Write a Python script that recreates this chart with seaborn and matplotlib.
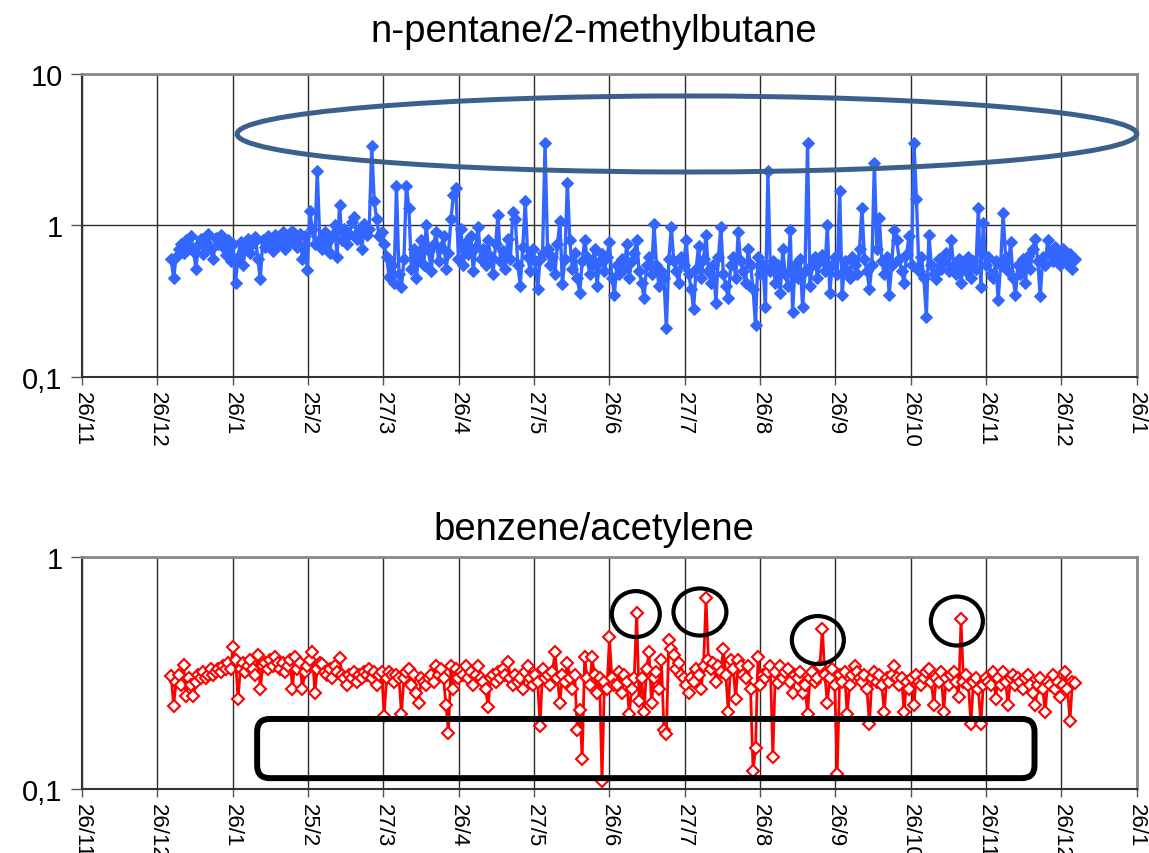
import numpy as np
import pandas as pd
import matplotlib
matplotlib.use("Agg")
import matplotlib.pyplot as plt
import matplotlib.dates as mdates
import seaborn as sns
from matplotlib.patches import Ellipse, FancyBboxPatch
from matplotlib.ticker import NullLocator

# ── data (daily ratios) ──────────────────────────────────────────────────────
first_day = "2009-01-01"

pentane_ratio = [
    0.60, 0.45, 0.62, 0.70, 0.75, 0.66, 0.80, 0.72, 0.85, 0.68,
    0.52, 0.74, 0.82, 0.65, 0.78, 0.88, 0.70, 0.60, 0.83, 0.76,
    0.86, 0.72, 0.64, 0.80, 0.58, 0.75, 0.42, 0.62, 0.78, 0.55,
    0.70, 0.82, 0.66, 0.77, 0.84, 0.60, 0.44, 0.80, 0.72, 0.85,
    0.78, 0.68, 0.86, 0.74, 0.80, 0.90, 0.70, 0.76, 0.84, 0.92,
    0.80, 0.72, 0.88, 0.60, 0.85, 0.51, 1.24, 0.95, 0.75, 2.30,
    0.82, 0.70, 0.90, 0.78, 0.66, 0.85, 1.00, 0.62, 1.36, 0.80,
    0.95, 0.75, 0.88, 1.05, 1.13, 0.82, 0.92, 0.70, 1.02, 0.86,
    0.95, 3.37, 1.45, 1.10, 0.85, 0.90, 0.75, 0.62, 0.46, 0.55,
    0.42, 1.82, 0.48, 0.39, 0.60, 1.82, 1.31, 0.52, 0.70, 0.45,
    0.62, 0.80, 0.55, 1.00, 0.68, 0.50, 0.75, 0.90, 0.58, 0.72,
    0.85, 0.52, 0.66, 1.10, 1.60, 1.78, 0.60, 0.95, 0.55, 0.78,
    0.65, 0.85, 0.50, 0.72, 0.98, 0.60, 0.70, 0.55, 0.80, 0.62,
    0.48, 0.75, 1.18, 0.58, 0.68, 0.52, 0.82, 0.60, 1.22, 1.10,
    0.55, 0.40, 0.72, 1.46, 0.62, 0.50, 0.70, 0.58, 0.38, 0.60,
    0.66, 3.50, 0.70, 0.55, 0.62, 0.48, 0.75, 1.07, 0.41, 0.60,
    1.92, 0.80, 0.52, 0.66, 0.45, 0.36, 0.58, 0.80, 0.62, 0.48,
    0.55, 0.70, 0.40, 0.58, 0.65, 0.50, 0.62, 0.78, 0.45, 0.35,
    0.55, 0.48, 0.60, 0.52, 0.75, 0.45, 0.58, 0.66, 0.80, 0.50,
    0.42, 0.33, 0.55, 0.62, 0.48, 1.02, 0.55, 0.40, 0.50, 0.45,
    0.21, 0.60, 0.97, 0.58, 0.50, 0.42, 0.62, 0.55, 0.80, 0.48,
    0.38, 0.28, 0.52, 0.73, 0.45, 0.60, 0.87, 0.50, 0.42, 0.55,
    0.31, 0.62, 0.98, 0.48, 0.40, 0.33, 0.55, 0.62, 0.45, 0.90,
    0.58, 0.50, 0.42, 0.70, 0.55, 0.38, 0.22, 0.62, 0.48, 0.55,
    0.29, 2.28, 0.50, 0.58, 0.42, 0.55, 0.36, 0.70, 0.48, 0.40,
    0.94, 0.27, 0.55, 0.45, 0.60, 0.29, 0.50, 3.48, 0.40, 0.55,
    0.62, 0.45, 0.58, 0.64, 0.50, 1.00, 0.36, 0.55, 0.62, 0.48,
    1.69, 0.35, 0.58, 0.50, 0.45, 0.62, 0.55, 0.48, 0.70, 1.30,
    0.60, 0.50, 0.38, 0.55, 2.60, 0.70, 1.12, 0.58, 0.48, 0.62,
    0.35, 0.55, 0.94, 0.80, 0.60, 0.50, 0.42, 0.65, 0.85, 0.55,
    3.50, 1.50, 0.50, 0.62, 0.45, 0.25, 0.87, 0.55, 0.48, 0.44,
    0.60, 0.52, 0.58, 0.66, 0.50, 0.80, 0.55, 0.48, 0.60, 0.42,
    0.55, 0.50, 0.62, 0.45, 0.58, 0.52, 1.31, 0.39, 1.04, 0.55,
    0.62, 0.48, 0.45, 0.58, 0.32, 0.55, 1.20, 0.62, 0.50, 0.78,
    0.45, 0.35, 0.55, 0.48, 0.60, 0.42, 0.63, 0.52, 0.70, 0.82,
    0.58, 0.34, 0.62, 0.55, 0.80, 0.65, 0.58, 0.72, 0.62, 0.55,
    0.70, 0.60, 0.56, 0.65, 0.52, 0.60,
]

benzene_ratio = [
    0.307, 0.229, 0.29, 0.31, 0.28, 0.342, 0.252, 0.30, 0.28, 0.252,
    0.29, 0.31, 0.30, 0.32, 0.30, 0.31, 0.33, 0.31, 0.32, 0.33,
    0.32, 0.34, 0.33, 0.35, 0.33, 0.41, 0.36, 0.244, 0.33, 0.35,
    0.32, 0.34, 0.36, 0.33, 0.31, 0.378, 0.27, 0.34, 0.35, 0.33,
    0.36, 0.34, 0.37, 0.35, 0.33, 0.35, 0.32, 0.34, 0.36, 0.27,
    0.37, 0.33, 0.35, 0.27, 0.32, 0.34, 0.36, 0.39, 0.26, 0.33,
    0.35, 0.345, 0.32, 0.31, 0.33, 0.30, 0.34, 0.32, 0.366, 0.31,
    0.30, 0.28, 0.31, 0.30, 0.32, 0.29, 0.31, 0.30, 0.32, 0.31,
    0.33, 0.30, 0.32, 0.28, 0.31, 0.32, 0.207, 0.30, 0.32, 0.31,
    0.29, 0.31, 0.30, 0.21, 0.30, 0.32, 0.33, 0.28, 0.31, 0.26,
    0.236, 0.30, 0.29, 0.28, 0.30, 0.31, 0.29, 0.34, 0.31, 0.33,
    0.30, 0.23, 0.175, 0.34, 0.27, 0.33, 0.30, 0.32, 0.31, 0.34,
    0.30, 0.32, 0.28, 0.31, 0.34, 0.30, 0.29, 0.27, 0.226, 0.30,
    0.31, 0.29, 0.32, 0.30, 0.33, 0.31, 0.354, 0.30, 0.28, 0.31,
    0.29, 0.30, 0.27, 0.32, 0.34, 0.30, 0.28, 0.31, 0.29, 0.186,
    0.33, 0.30, 0.31, 0.28, 0.32, 0.388, 0.30, 0.235, 0.31, 0.29,
    0.35, 0.30, 0.27, 0.31, 0.18, 0.22, 0.135, 0.37, 0.30, 0.28,
    0.37, 0.31, 0.26, 0.30, 0.108, 0.29, 0.27, 0.45, 0.30, 0.28,
    0.28, 0.32, 0.26, 0.31, 0.29, 0.21, 0.27, 0.30, 0.574, 0.24,
    0.30, 0.215, 0.33, 0.39, 0.235, 0.30, 0.32, 0.27, 0.36, 0.18,
    0.172, 0.44, 0.40, 0.38, 0.33, 0.35, 0.31, 0.30, 0.28, 0.26,
    0.30, 0.29, 0.33, 0.31, 0.27, 0.34, 0.664, 0.36, 0.33, 0.35,
    0.29, 0.34, 0.32, 0.40, 0.31, 0.215, 0.36, 0.33, 0.245, 0.36,
    0.34, 0.31, 0.30, 0.34, 0.27, 0.12, 0.15, 0.37, 0.28, 0.31,
    0.30, 0.32, 0.34, 0.137, 0.32, 0.285, 0.34, 0.30, 0.32, 0.33,
    0.29, 0.26, 0.31, 0.30, 0.32, 0.26, 0.28, 0.21, 0.30, 0.32,
    0.29, 0.30, 0.34, 0.49, 0.31, 0.235, 0.30, 0.33, 0.28, 0.116,
    0.31, 0.29, 0.32, 0.21, 0.28, 0.31, 0.34, 0.32, 0.30, 0.29,
    0.31, 0.27, 0.19, 0.30, 0.32, 0.29, 0.31, 0.28, 0.215, 0.30,
    0.29, 0.31, 0.34, 0.30, 0.28, 0.30, 0.215, 0.29, 0.27, 0.30,
    0.23, 0.31, 0.29, 0.28, 0.30, 0.32, 0.33, 0.29, 0.23, 0.30,
    0.29, 0.32, 0.215, 0.30, 0.28, 0.31, 0.32, 0.29, 0.25, 0.54,
    0.29, 0.31, 0.28, 0.19, 0.29, 0.30, 0.27, 0.19, 0.28, 0.30,
    0.29, 0.28, 0.32, 0.245, 0.30, 0.28, 0.32, 0.29, 0.23, 0.30,
    0.31, 0.28, 0.30, 0.29, 0.27, 0.30, 0.31, 0.28, 0.26, 0.23,
    0.28, 0.30, 0.27, 0.215, 0.29, 0.28, 0.31, 0.27, 0.29, 0.25,
    0.28, 0.32, 0.27, 0.197, 0.29, 0.285,
]

axis_start = "2008-11-26"
axis_end = "2010-01-26"
date_labels = ["26/11", "26/12", "26/1", "25/2", "27/3", "26/4", "27/5", "26/6",
               "27/7", "26/8", "26/9", "26/10", "26/11", "26/12", "26/1"]

top_title = "n-pentane/2-methylbutane"
bottom_title = "benzene/acetylene"
top_yticks = [0.1, 1, 10]
top_ylabels = ["0,1", "1", "10"]
bottom_yticks = [0.1, 1]
bottom_ylabels = ["0,1", "1"]

days = pd.date_range(first_day, periods=len(pentane_ratio), freq="D")
df = pd.DataFrame({"date": days, "pentane": pentane_ratio, "benzene": benzene_ratio})

# ── style ────────────────────────────────────────────────────────────────────
sns.set_theme(style="white")
plt.rcParams["font.family"] = ["Liberation Sans", "DejaVu Sans"]
plt.rcParams["text.color"] = "black"
plt.rcParams["xtick.color"] = "black"
plt.rcParams["ytick.color"] = "black"

fig = plt.figure(figsize=(11.49, 8.54), dpi=100)
ax_top = fig.add_axes([0.0714, 0.5574, 0.918, 0.3548])
ax_bot = fig.add_axes([0.0714, 0.0749, 0.918, 0.2717])

sns.lineplot(data=df, x="date", y="pentane", ax=ax_top, color="#3366ff",
             lw=2.4, marker="D", markersize=6.5, markeredgecolor="#3366ff")
sns.lineplot(data=df, x="date", y="benzene", ax=ax_bot, color="#ff0000",
             lw=2.0, marker="D", markersize=6, markerfacecolor="white",
             markeredgecolor="#ff0000", markeredgewidth=1.5)

x0 = mdates.date2num(pd.Timestamp(axis_start))
x1 = mdates.date2num(pd.Timestamp(axis_end))
xticks = np.linspace(x0, x1, len(date_labels))


def style_axis(ax, yticks, ylabels, ylim, title, pad):
    ax.set_yscale("log")
    ax.set_ylim(*ylim)
    ax.set_yticks(yticks, labels=ylabels)
    ax.yaxis.set_minor_locator(NullLocator())
    ax.set_xlim(x0, x1)
    ax.set_xticks(xticks, labels=date_labels)
    ax.xaxis.set_minor_locator(NullLocator())
    ax.set_xlabel("")
    ax.set_ylabel("")
    ax.grid(True, which="major", color="#2a2a2a", lw=1)
    ax.tick_params(axis="x", bottom=True, direction="out", length=6, width=1,
                   color="#555555", labelsize=16, labelcolor="black",
                   rotation=270, pad=4)
    ax.tick_params(axis="y", left=True, direction="out", length=8, width=1,
                   color="#555555", labelsize=21, labelcolor="black", pad=6)
    for lbl in ax.get_xticklabels():
        lbl.set_va("top")
        lbl.set_ha("center")
    for side in ("left", "bottom"):
        ax.spines[side].set_color("#333333")
        ax.spines[side].set_linewidth(1.5)
    for side in ("top", "right"):
        ax.spines[side].set_color("#888888")
        ax.spines[side].set_linewidth(2)
    t = ax.set_title(title, fontsize=27.5, pad=pad, color="black")
    t.set_x(0.485)


style_axis(ax_top, top_yticks, top_ylabels, (0.1, 10), top_title, 24)
style_axis(ax_bot, bottom_yticks, bottom_ylabels, (0.1, 1), bottom_title, 13)

# ── annotations ──────────────────────────────────────────────────────────────
ax_top.add_patch(Ellipse((0.5735, 0.802), 0.853, 0.251, transform=ax_top.transAxes,
                         fill=False, ec="#3c608c", lw=3.6, clip_on=False, zorder=5))

ax_bot.add_patch(FancyBboxPatch((0.166, 0.047), 0.737, 0.255,
                                boxstyle="round,pad=0,rounding_size=0.012",
                                mutation_aspect=1055 / 232,
                                transform=ax_bot.transAxes, fill=False,
                                ec="black", lw=4.3, clip_on=False, zorder=5))

for cx, cy, w, h in [(0.525, 0.754, 0.0455, 0.198), (0.5858, 0.763, 0.0502, 0.203),
                     (0.6976, 0.642, 0.0493, 0.207), (0.8294, 0.724, 0.0493, 0.211)]:
    ax_bot.add_patch(Ellipse((cx, cy), w, h, transform=ax_bot.transAxes,
                             fill=False, ec="black", lw=3, clip_on=False, zorder=5))

fig.savefig("out.png", dpi=100)
